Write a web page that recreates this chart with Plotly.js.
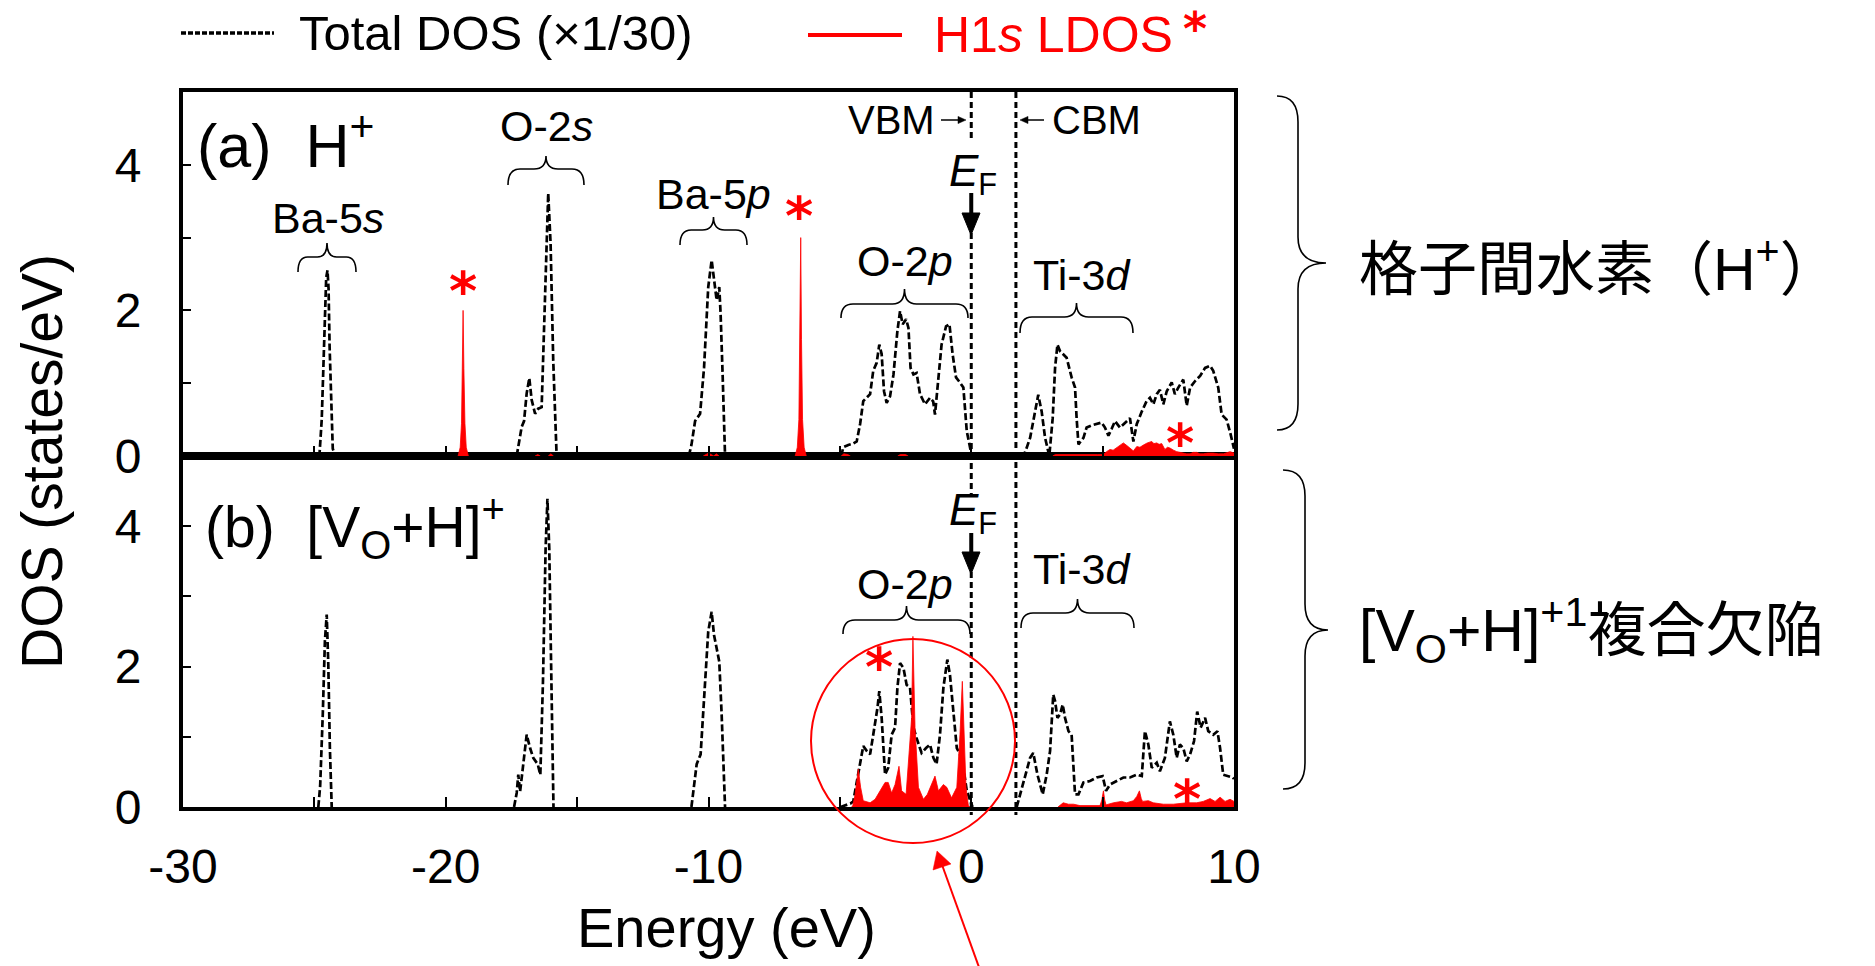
<!DOCTYPE html>
<html><head><meta charset="utf-8">
<script src="https://cdn.plot.ly/plotly-3.0.1.min.js"></script>
<style>html,body{margin:0;padding:0;background:#fff}#g{width:1875px;height:966px}</style>
</head><body><div id="g"></div>
<script>
// ---------------- DATA ----------------
// null separates the separate bands so that no line runs along the zero baseline
// Panel (a): interstitial H+ ; Total DOS (x1/30), dashed black
const energyA_tot = [-24.9,-24.8,-24.72,-24.62,-24.55,-24.5,-24.46,-24.42,-24.36,-24.3,-24.2,null,
 -17.3,-17.2,-17.11,-17.02,-16.92,-16.82,-16.73,-16.6,-16.48,-16.35,-16.22,-16.1,-16.01,-15.91,-15.78,null,
 -10.75,-10.65,-10.51,-10.32,-10.17,-10.01,-9.88,-9.79,-9.69,-9.59,-9.54,-9.46,-9.37,null,
 -4.95,-4.87,-4.68,-4.5,-4.36,-4.23,-4.11,-3.98,-3.85,-3.73,-3.6,-3.5,-3.41,-3.32,-3.22,-3.09,-2.96,-2.81,-2.71,-2.61,-2.48,-2.39,-2.31,-2.2,-2.08,-1.95,-1.76,-1.57,-1.45,-1.38,-1.25,-1.13,-0.96,-0.83,-0.71,-0.58,-0.43,-0.3,-0.17,-0.05,0.02,null,
 1.86,2.05,2.24,2.43,2.55,2.68,2.81,2.97,3.1,3.19,3.28,3.38,3.5,3.63,3.82,3.95,4.01,4.08,4.27,4.39,4.58,4.77,4.96,5.09,5.22,5.34,5.47,5.66,5.85,6.04,6.17,6.3,6.49,6.68,6.8,6.93,7.06,7.18,7.31,7.44,7.63,7.75,7.88,8.07,8.2,8.33,8.52,8.71,8.9,9.09,9.21,9.4,9.53,9.72,9.87,10];
const dosA_tot = [0,0.05,0.5,1.8,2.45,2.55,2.3,1.5,0.6,0.1,0,null,
 0,0.2,0.4,0.48,0.86,1.07,0.77,0.58,0.65,0.67,2.24,3.61,2.92,1.32,0,null,
 0,0.15,0.48,0.58,1.21,2.32,2.69,2.42,2.14,2.32,1.96,1.09,0,null,
 0,0.12,0.15,0.17,0.2,0.44,0.755,0.8,0.85,1.17,1.28,1.53,1.4,0.89,0.73,0.82,1.12,1.72,1.99,1.81,1.88,1.76,1.21,1.12,1.14,0.85,0.71,0.8,0.75,0.57,1.03,1.53,1.78,1.81,1.4,1.08,1.01,0.94,0.34,0.12,0,null,
 0,0.05,0.25,0.61,0.84,0.61,0.25,0,0.52,1.21,1.53,1.44,1.4,1.35,1.08,0.94,0.52,0.16,0.25,0.39,0.42,0.44,0.46,0.39,0.28,0.37,0.48,0.39,0.46,0.52,0.2,0.44,0.61,0.76,0.8,0.71,0.85,0.91,0.71,0.89,1.01,0.85,0.94,1.05,0.69,0.94,1.03,1.1,1.21,1.24,1.17,0.94,0.57,0.5,0.3,0.1];
// Panel (a): H1s LDOS, red filled
const energyA_h = [-19.53,-19.45,-19.4,-19.36,-19.34,-19.31,-19.27,-19.22,-19.14,null,
 -16.6,-16.5,-16.4,null,-16.1,-16.0,-15.9,null,-10.2,-10.0,-9.8,-9.7,-9.6,null,
 -6.7,-6.62,-6.56,-6.52,-6.49,-6.46,-6.42,-6.36,-6.28,null,
 -4.95,-4.85,-4.7,-4.6,null,-2.8,-2.7,-2.5,-2.4,null,
 3.1,3.2,4.8,5.03,5.15,5.28,5.4,5.53,5.65,5.79,5.9,5.98,6.08,6.17,6.3,6.42,6.55,6.7,6.87,6.95,7.06,7.15,7.25,7.37,7.47,7.56,7.7,7.82,7.95,8.07,8.2,8.33,8.45,8.58,8.7,8.83,9.0,9.21,9.4,9.6,9.75,9.85,10];
const dosA_h = [0,0.12,0.45,1.2,2.0,1.2,0.45,0.12,0,null,
 0,0.02,0,null,0,0.03,0,null,0,0.04,0,0.03,0,null,
 0,0.12,0.5,1.6,3.0,1.6,0.5,0.12,0,null,
 0,0.03,0.02,0,null,0,0.02,0.02,0,null,
 0,0.02,0.02,0.02,0.06,0.09,0.08,0.11,0.14,0.18,0.15,0.13,0.1,0.07,0.13,0.12,0.15,0.18,0.2,0.17,0.18,0.16,0.17,0.09,0.12,0.11,0.08,0.06,0.05,0.04,0.03,0.03,0.05,0.05,0.03,0.03,0.04,0.04,0.03,0.03,0.05,0.06,0.04];
// Panel (b): [VO+H]+ complex ; Total DOS (x1/30)
const energyB_tot = [-24.85,-24.78,-24.68,-24.6,-24.53,-24.47,-24.41,-24.34,null,
 -17.4,-17.3,-17.24,-17.17,-17.05,-16.92,-16.79,-16.67,-16.5,-16.4,-16.3,-16.2,-16.13,-16.06,-16.0,-15.9,null,
 -10.65,-10.45,-10.3,-10.17,-10.01,-9.88,-9.79,-9.69,-9.59,-9.5,-9.37,null,
 -4.97,-4.6,-4.49,-4.36,-4.23,-4.11,-3.98,-3.85,-3.73,-3.57,-3.5,-3.41,-3.28,-3.16,-3.03,-2.9,-2.81,-2.71,-2.58,-2.46,-2.33,-2.2,-2.08,-1.89,-1.72,-1.57,-1.44,-1.32,-1.19,-1.06,-0.91,-0.81,-0.68,-0.55,-0.43,-0.3,-0.17,-0.05,0.05,null,
 1.73,1.86,2.05,2.24,2.36,2.52,2.72,2.87,3.0,3.12,3.19,3.28,3.38,3.48,3.57,3.7,3.82,3.95,4.08,4.27,4.52,4.77,5.0,5.13,5.28,5.53,5.79,6.04,6.3,6.49,6.61,6.74,6.87,7.06,7.18,7.37,7.56,7.69,7.82,7.94,8.07,8.2,8.33,8.48,8.6,8.73,8.9,9.02,9.21,9.37,9.47,9.59,9.78,9.95,10];
const dosB_tot = [0,0.3,1.32,2.36,2.74,2.03,0.84,0,null,
 0,0.2,0.46,0.22,0.61,1.03,0.84,0.7,0.61,0.46,1.79,3.68,4.39,3.68,2.26,0,null,
 0,0.61,0.75,1.55,2.5,2.78,2.45,2.26,2.07,1.32,0,null,
 0,0.05,0.08,0.37,0.61,0.87,0.8,0.75,1.03,1.41,1.65,1.27,0.46,0.56,1.03,1.13,1.7,2.05,1.98,1.74,1.7,1.13,0.98,0.77,0.84,0.89,0.7,0.61,1.03,1.7,2.1,1.88,1.36,0.84,0.75,0.56,0.23,0.09,0,null,
 0,0.18,0.41,0.7,0.77,0.46,0.18,0.46,0.8,1.6,1.51,1.27,1.32,1.46,1.27,1.08,1.03,0.18,0.18,0.35,0.37,0.42,0.44,0.23,0.32,0.37,0.42,0.42,0.46,0.44,1.08,0.89,0.56,0.63,0.51,0.7,1.22,1.03,0.7,0.89,0.84,0.65,0.75,0.94,1.36,1.13,1.27,1.08,1.03,1.08,0.84,0.46,0.44,0.42,0.4];
// Panel (b): H1s LDOS
const energyB_h = [-4.55,-4.51,-4.42,-4.3,-4.21,-4.11,-3.85,-3.66,-3.47,-3.28,-3.16,-3.03,-2.9,-2.75,-2.65,-2.48,-2.36,-2.27,-2.22,-2.14,-2.01,-1.82,-1.67,-1.51,-1.38,-1.25,-1.06,-0.93,-0.75,-0.55,-0.43,-0.34,-0.28,-0.2,-0.11,-0.05,null,
 3.3,3.4,3.5,3.7,3.89,4.14,4.9,4.97,5.03,5.08,5.13,5.41,5.72,5.91,6.17,6.3,6.4,6.47,6.52,6.74,6.93,7.31,7.69,8.2,8.58,8.83,9.09,9.28,9.47,9.66,9.85,10];
const dosB_h = [0,0.02,0.18,0.54,0.28,0.09,0.06,0.11,0.23,0.35,0.35,0.2,0.32,0.58,0.23,0.18,0.8,1.27,2.43,1.13,0.28,0.11,0.18,0.32,0.44,0.23,0.32,0.28,0.13,0.28,1.03,1.79,1.13,0.28,0.02,0,null,
 0,0.03,0.06,0.04,0.04,0.02,0.02,0.1,0.23,0.1,0.03,0.06,0.08,0.06,0.09,0.15,0.23,0.12,0.08,0.09,0.06,0.04,0.04,0.06,0.06,0.08,0.12,0.08,0.14,0.08,0.11,0.08];
// Band edges (eV)
const VBM = 0, CBM = 1.7;
// Axis ticks
const xTickVals = [-30,-20,-10,0,10];
const xTickText = ['-30','-20','-10','0','10'];
const xMinorStep = 5;
const yTickVals = [0,2,4];
const yTickText = ['0','2','4'];
const yMinorStep = 1;

// ---------------- LAYOUT HELPERS ----------------
const W=1875,H=966, L=183,R=1234,T=92,B=807;
const X=p=>(p-L)/(R-L), Y=p=>(B-p)/(B-T);
const FONT='"Liberation Sans", Arial, sans-serif';
const MIX='"Liberation Sans", "Noto Sans CJK JP", "Noto Sans CJK SC", sans-serif';

function hbrace(x0,x1,yEnd,yBar,yTip){
  const xm=(x0+x1)/2, r=Math.min(12,(x1-x0)/6);
  return `M${X(x0)},${Y(yEnd)} Q${X(x0)},${Y(yBar)} ${X(x0+r)},${Y(yBar)} L${X(xm-r)},${Y(yBar)} Q${X(xm)},${Y(yBar)} ${X(xm)},${Y(yTip)} Q${X(xm)},${Y(yBar)} ${X(xm+r)},${Y(yBar)} L${X(x1-r)},${Y(yBar)} Q${X(x1)},${Y(yBar)} ${X(x1)},${Y(yEnd)}`;
}
function vbrace(xEnd,xBar,xTip,y0,y1,yTip){
  const r=26;
  return `M${X(xEnd)},${Y(y0)} Q${X(xBar)},${Y(y0)} ${X(xBar)},${Y(y0+r)} L${X(xBar)},${Y(yTip-r)} Q${X(xBar)},${Y(yTip)} ${X(xTip)},${Y(yTip)} Q${X(xBar)},${Y(yTip)} ${X(xBar)},${Y(yTip+r)} L${X(xBar)},${Y(y1-r)} Q${X(xBar)},${Y(y1)} ${X(xEnd)},${Y(y1)}`;
}
function hArrow(xFrom,xTo,y,head,line,fill){ // small horizontal arrow, px coords
  const s=Math.sign(xTo-xFrom);
  return [
    {type:'line',xref:'paper',yref:'paper',x0:X(xFrom),x1:X(xTo-s*head),y0:Y(y),y1:Y(y),line:line},
    {type:'path',xref:'paper',yref:'paper',path:`M${X(xTo-s*head)},${Y(y-head*0.45)} L${X(xTo)},${Y(y)} L${X(xTo-s*head)},${Y(y+head*0.45)} Z`,line:{color:fill,width:0.5},fillcolor:fill}
  ];
}
const thin={color:'black',width:1.6};
function pathShape(d,line,fill){return {type:'path',xref:'paper',yref:'paper',path:d,line:line||thin,fillcolor:fill||'rgba(0,0,0,0)'};}
function ann(text,x,y,size,o){
  o=o||{};
  return Object.assign({text:text,xref:'paper',yref:'paper',x:X(x),y:Y(y),showarrow:false,
    xanchor:o.xa||'center',yanchor:'middle',font:{family:o.family||FONT,size:size,color:o.color||'black',weight:o.weight||'normal'}},o.extra||{});
}
function star(x,y,size){size=size||54;return ann('*',x,y+size*0.2,size,{color:'red',family:'"DejaVu Sans", sans-serif',weight:'bold'});}

// ---------------- TRACES ----------------
const totLine={color:'black',width:2.7,dash:'7px,3px'};
const traces=[
 {x:energyA_tot,y:dosA_tot,xaxis:'x2',yaxis:'y2',mode:'lines',connectgaps:false,line:totLine,hoverinfo:'skip'},
 {x:energyA_h,y:dosA_h,xaxis:'x2',yaxis:'y2',mode:'lines',connectgaps:false,fill:'tozeroy',fillcolor:'red',line:{color:'red',width:0.8},hoverinfo:'skip'},
 {x:energyB_tot,y:dosB_tot,xaxis:'x',yaxis:'y',mode:'lines',connectgaps:false,line:totLine,hoverinfo:'skip'},
 {x:energyB_h,y:dosB_h,xaxis:'x',yaxis:'y',mode:'lines',connectgaps:false,fill:'tozeroy',fillcolor:'red',line:{color:'red',width:0.8},hoverinfo:'skip'}
];

// ---------------- SHAPES ----------------
const dashV={color:'black',width:3,dash:'6px,4px'};
const shapes=[
 {type:'line',xref:'x',yref:'paper',x0:VBM,x1:VBM,y0:Y(92),y1:Y(140),line:dashV},
 {type:'line',xref:'x',yref:'paper',x0:VBM,x1:VBM,y0:Y(233),y1:Y(497),line:dashV},
 {type:'line',xref:'x',yref:'paper',x0:VBM,x1:VBM,y0:Y(572),y1:Y(815),line:dashV},
 {type:'line',xref:'x',yref:'paper',x0:CBM,x1:CBM,y0:Y(92),y1:Y(815),line:dashV},
 {type:'line',xref:'x',yref:'paper',x0:VBM,x1:VBM,y0:Y(193),y1:Y(216),line:{color:'black',width:4}},
 {type:'path',xref:'paper',yref:'paper',path:`M${X(962)},${Y(213)} L${X(980)},${Y(213)} L${X(971)},${Y(235)} Z`,line:{color:'black',width:1},fillcolor:'black'},
 {type:'line',xref:'x',yref:'paper',x0:VBM,x1:VBM,y0:Y(533),y1:Y(555),line:{color:'black',width:4}},
 {type:'path',xref:'paper',yref:'paper',path:`M${X(962)},${Y(552)} L${X(980)},${Y(552)} L${X(971)},${Y(574)} Z`,line:{color:'black',width:1},fillcolor:'black'},
 ...hArrow(941,966,120,8,{color:'black',width:1.5},'black'),
 ...hArrow(1044,1020,120,8,{color:'black',width:1.5},'black'),
 pathShape(hbrace(298,356,272,257,243)),
 pathShape(hbrace(508,584,185,169,156)),
 pathShape(hbrace(680,747,245,230,217)),
 pathShape(hbrace(841,968,318,304,289)),
 pathShape(hbrace(1020,1133,333,317,303)),
 pathShape(hbrace(843,970,634,620,606)),
 pathShape(hbrace(1021,1134,628,613,599)),
 pathShape(vbrace(1277,1298,1326,96,430,263)),
 pathShape(vbrace(1283,1305,1328,470,789,630)),
 {type:'circle',xref:'paper',yref:'paper',x0:X(811),x1:X(1015),y0:Y(843),y1:Y(639),line:{color:'red',width:2}},
 ...hArrow(980,937,851,0,{color:'red',width:2},'red').slice(0,1).map(s=>Object.assign(s,{x0:X(980),y0:Y(970),x1:X(941),y1:Y(862)})),
 {type:'path',xref:'paper',yref:'paper',path:`M${X(937)},${Y(851)} L${X(933)},${Y(870)} L${X(951)},${Y(864)} Z`,line:{color:'red',width:0.5},fillcolor:'red'},
 {type:'line',xref:'paper',yref:'paper',x0:X(181),x1:X(274),y0:Y(33),y1:Y(33),line:{color:'black',width:3.5,dash:'5px,2px'}},
 {type:'line',xref:'paper',yref:'paper',x0:X(808),x1:X(902),y0:Y(35),y1:Y(35),line:{color:'red',width:4}}
];

// ---------------- ANNOTATIONS ----------------
const annotations=[
 ann('Total DOS (×1/30)',297,33,49,{xa:'left'}),
 ann('H1<i>s</i> LDOS',932,35,50,{xa:'left',color:'red'}),
 star(1195,20,46),
 ann('(a)  H<sup>+</sup>',195,141,61,{xa:'left'}),
 ann('(b)  [V<sub>O</sub>+H]<sup>+</sup>',203,527,57,{xa:'left'}),
 ann('Ba-5<i>s</i>',328,218,43),
 ann('O-2<i>s</i>',546,126,43),
 ann('Ba-5<i>p</i>',713,194,43),
 ann('O-2<i>p</i>',905,261,43),
 ann('Ti-3<i>d</i>',1082,275,43),
 ann('O-2<i>p</i>',905,584,43),
 ann('Ti-3<i>d</i>',1082,569,43),
 ann('VBM',937,120,40,{xa:'right'}),
 ann('CBM',1050,120,40,{xa:'left'}),
 ann('<i>E</i><sub>F</sub>',973,174,44),
 ann('<i>E</i><sub>F</sub>',973,513,44),
 star(463,281),star(799,206),star(1180,433),star(879,657),star(1187,789),
 ann('Energy (eV)',726,927,56),
 ann('DOS (states/eV)',42,462,57,{extra:{textangle:-90}}),
 ann('格子間水素（H<sup>+</sup>）',1357,265,59,{xa:'left',family:MIX}),
 ann('[V<sub>O</sub>+H]<sup>+1</sup>複合欠陥',1357,630,59,{xa:'left',family:MIX})
];

const axX={range:[-30,10],tickvals:xTickVals,ticktext:xTickText,ticks:'inside',ticklen:10,tickwidth:2,tickcolor:'black',
  minor:{dtick:xMinorStep,tick0:0,ticks:'inside',ticklen:10,tickwidth:2,tickcolor:'black',showgrid:false},
  showline:true,linewidth:4,linecolor:'black',mirror:true,showgrid:false,zeroline:false,fixedrange:true};
const axY={range:[0,5],tickvals:yTickVals,ticktext:yTickText,ticks:'inside',ticklen:8,tickwidth:2,tickcolor:'black',
  minor:{dtick:yMinorStep,tick0:0,ticks:'inside',ticklen:8,tickwidth:2,tickcolor:'black',showgrid:false},
  showline:true,linewidth:4,linecolor:'black',mirror:true,showgrid:false,zeroline:false,fixedrange:true,
  tickfont:{family:FONT,size:48,color:'black'},ticklabelstandoff:28};
const split=(B-456)/(B-T);
const layout={
 width:W,height:H,margin:{l:L,r:W-R,t:T,b:H-B},paper_bgcolor:'white',plot_bgcolor:'white',showlegend:false,
 xaxis:Object.assign({},axX,{anchor:'y',tickfont:{family:FONT,size:48,color:'black'},ticklabelstandoff:14}),
 xaxis2:Object.assign({},axX,{anchor:'y2',matches:'x',showticklabels:false}),
 yaxis:Object.assign({},axY,{domain:[0,split],anchor:'x'}),
 yaxis2:Object.assign({},axY,{domain:[split,1],anchor:'x2'}),
 shapes:shapes,annotations:annotations
};
Plotly.newPlot('g',traces,layout,{staticPlot:true,displayModeBar:false});
</script></body></html>
